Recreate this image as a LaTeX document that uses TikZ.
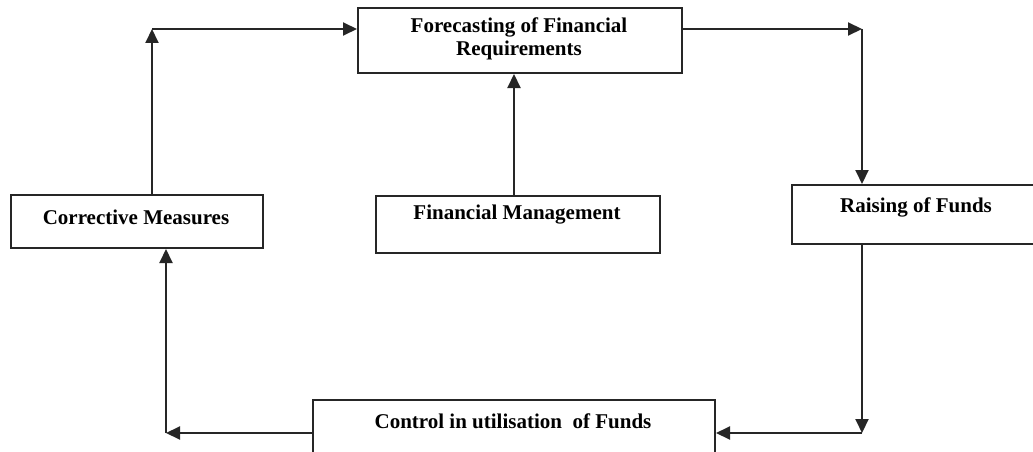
\documentclass[tikz,border=0pt]{standalone}
\usepackage{fontspec}
\setmainfont{Liberation Serif}
\usetikzlibrary{arrows.meta}
\tikzset{
  box/.style={draw=black!85, line width=2pt, rectangle, inner sep=0pt, anchor=north west},
  lbl/.style={font=\fontsize{21}{23}\selectfont\bfseries, align=center, inner sep=0pt},
  conn/.style={draw=black!85, line width=2pt, -{Triangle[length=14pt,width=13pt]}},
}
\begin{document}
\begin{tikzpicture}[x=1pt,y=-1pt]
\useasboundingbox (0,0) rectangle (1033,452);
\clip (0,0) rectangle (1033,452);
\fill[white] (0,0) rectangle (1033,452);
% boxes
\node[box, minimum width=324pt, minimum height=65pt] (fore) at (357,7) {};
\node[lbl] (foreT) at (519,38.5) {Forecasting of Financial\\Requirements};
\node[box, minimum width=284pt, minimum height=57pt] (fm) at (375,195) {};
\node[lbl] (fmT) at (517,215) {Financial Management};
\node[box, minimum width=252pt, minimum height=53pt] (corr) at (10,194) {};
\node[lbl] (corrT) at (136,217) {Corrective Measures};
\node[box, minimum width=250pt, minimum height=59pt] (rais) at (791,184) {};
\node[lbl] (raisT) at (916,207) {Raising of Funds};
\node[box, minimum width=402pt, minimum height=75pt] (ctrl) at (312,399) {};
\node[lbl] (ctrlT) at (513,421) {Control in utilisation\ \ of Funds};
% corner coordinates
\coordinate (tl) at (152,29);
\coordinate (tr) at (862,29);
\coordinate (br) at (862,433);
\coordinate (bl) at (166,433);
% connectors
\draw[conn] (fore.east |- tr) -- (tr);
\draw[conn] (tr) -- (tr |- rais.north);
\draw[conn] (br |- rais.south) -- (br);
\draw[conn] (br) -- (ctrl.east |- br);
\draw[conn] (ctrl.west |- bl) -- (bl);
\draw[conn] (bl) -- (bl |- corr.south);
\draw[conn] (tl |- corr.north) -- (tl);
\draw[conn] (tl) -- (fore.west |- tl);
\draw[conn] (fm.north -| 514,0) -- (fore.south -| 514,0);
\end{tikzpicture}
\end{document}
